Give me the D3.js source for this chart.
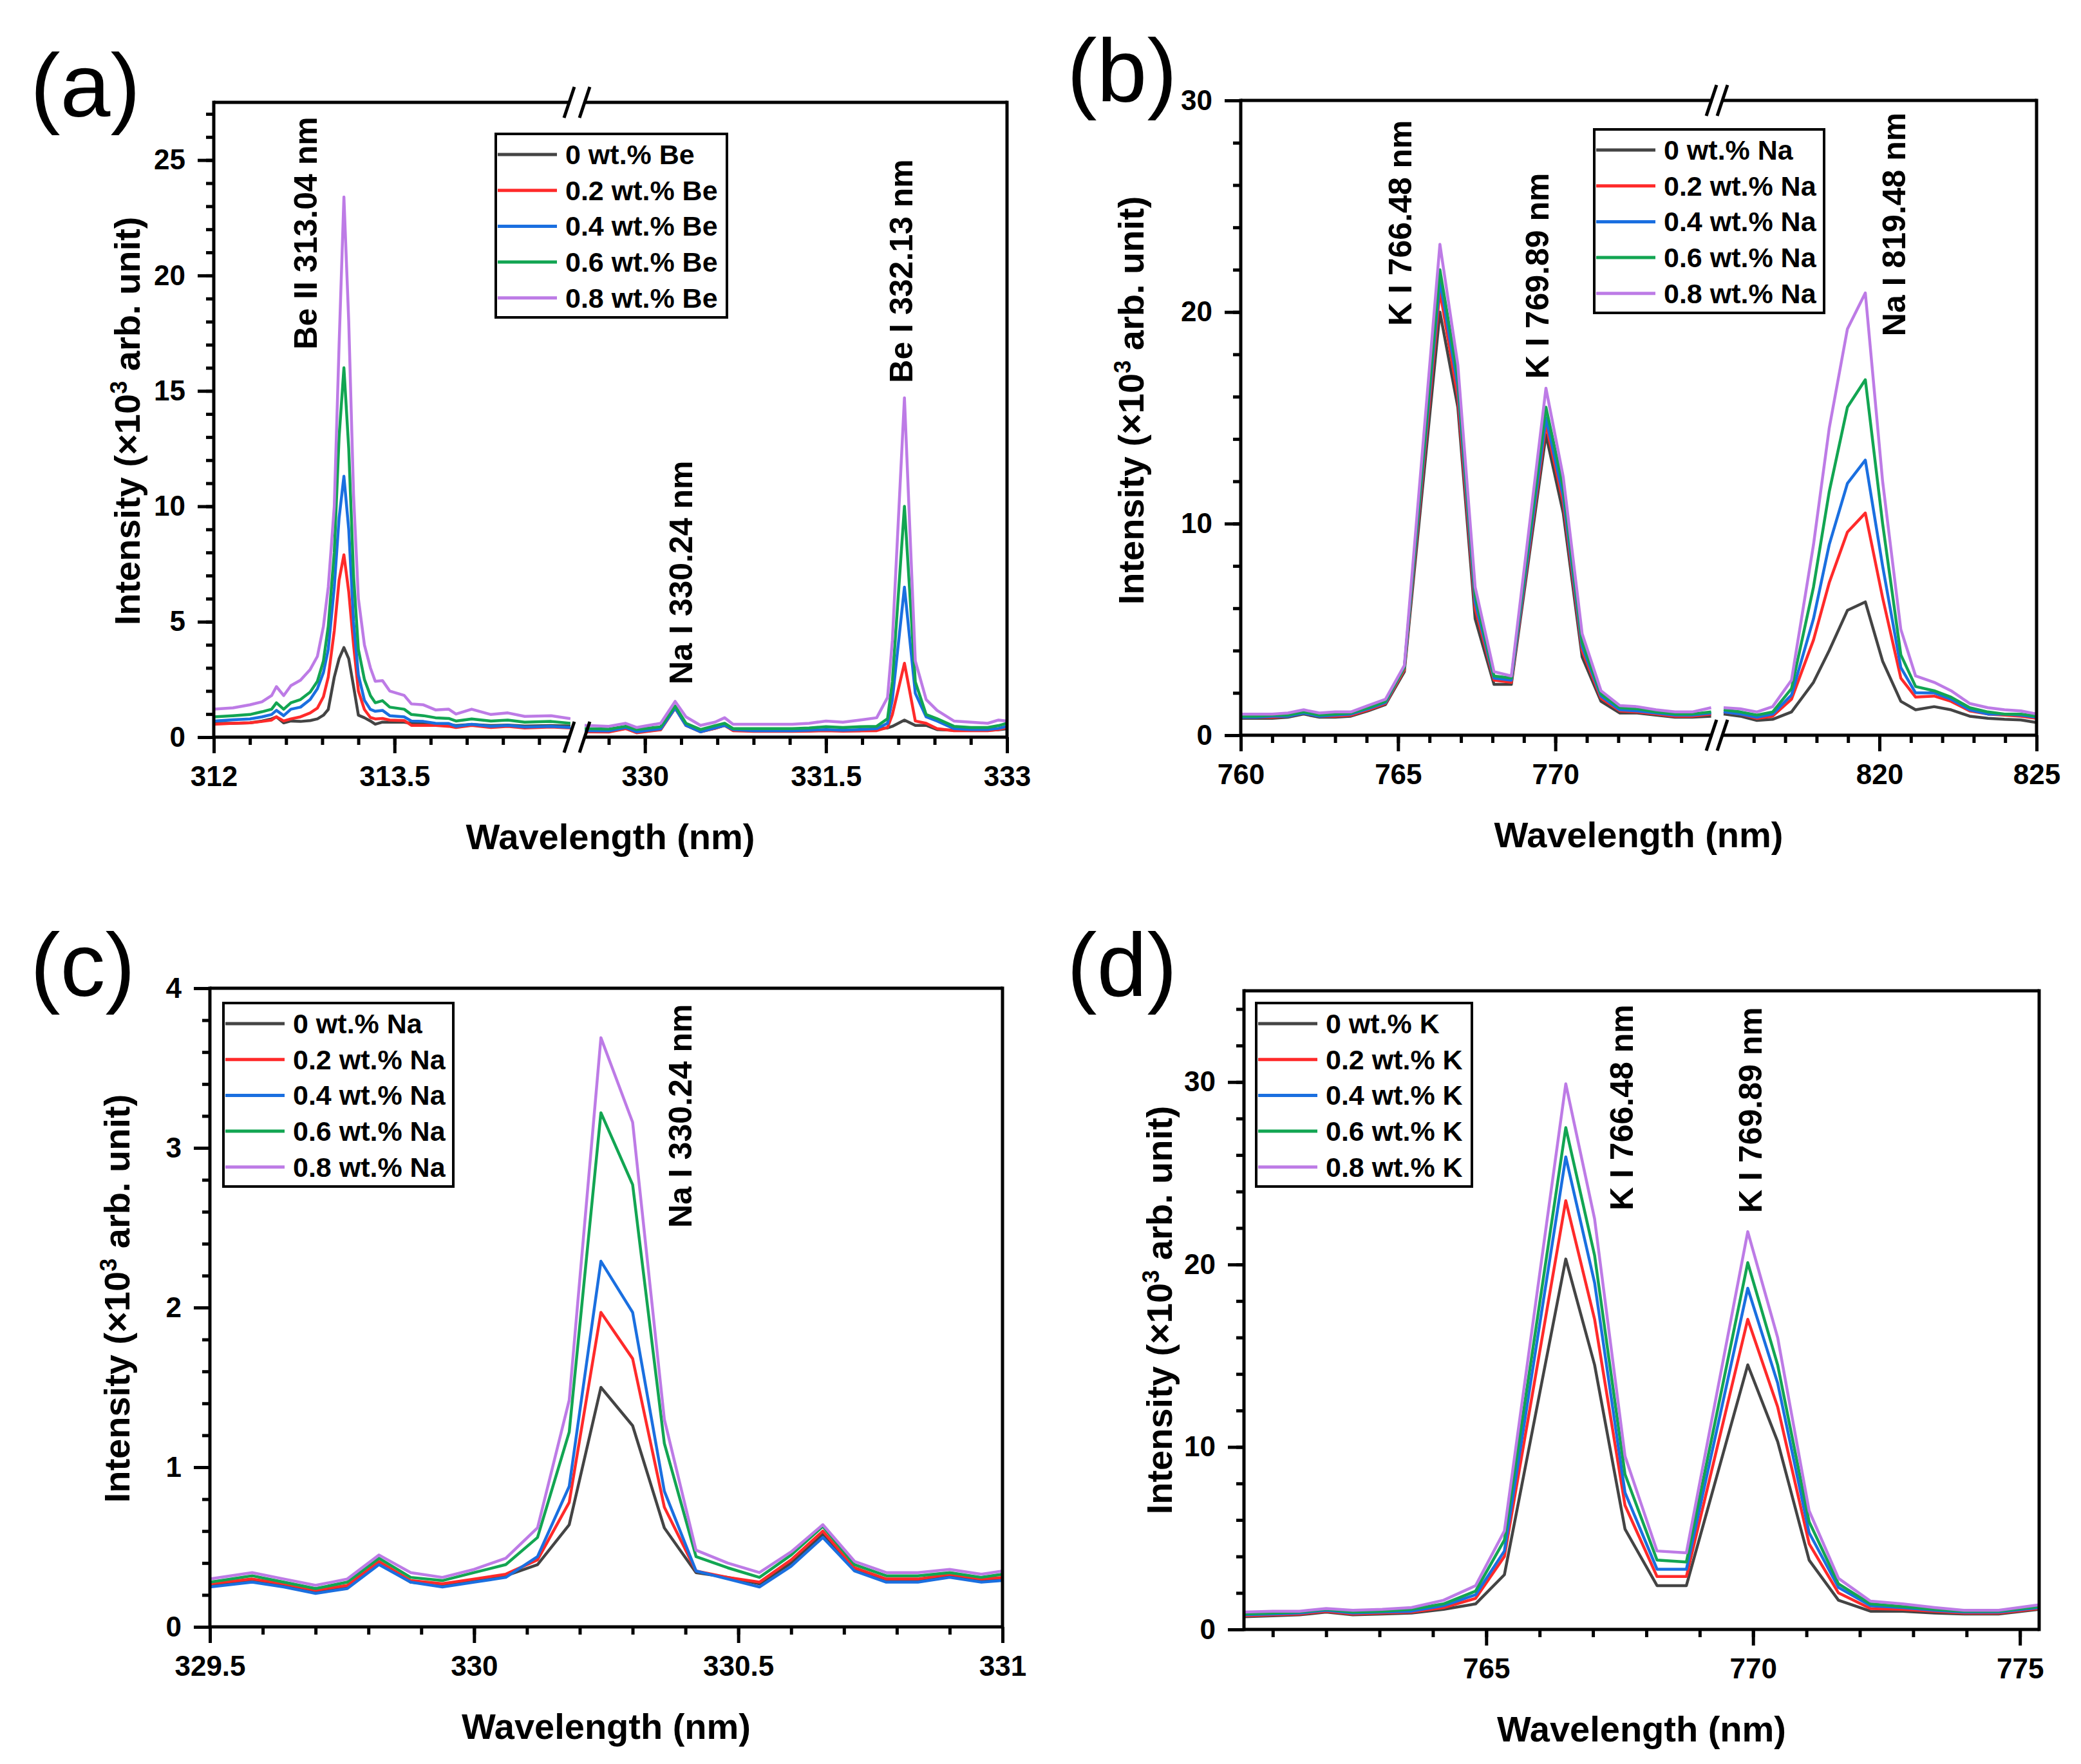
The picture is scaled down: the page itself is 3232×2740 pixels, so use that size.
<!DOCTYPE html>
<html>
<head>
<meta charset="utf-8">
<script src="https://cdn.jsdelivr.net/npm/d3@7"></script>
<style>
  body { margin: 0; background: #fff; }
  text { font-family: "Liberation Sans", Arial, sans-serif; }
</style>
</head>
<body>
<div id="chart"></div>
<script>
// ---- data (intensity in 10^3 arb. unit) ----
var legendBe = ['0 wt.% Be', '0.2 wt.% Be', '0.4 wt.% Be', '0.6 wt.% Be', '0.8 wt.% Be'];
var legendNa = ['0 wt.% Na', '0.2 wt.% Na', '0.4 wt.% Na', '0.6 wt.% Na', '0.8 wt.% Na'];
var legendK = ['0 wt.% K', '0.2 wt.% K', '0.4 wt.% K', '0.6 wt.% K', '0.8 wt.% K'];

// (a) left part of broken axis
var aLx = [312.0, 312.16, 312.30, 312.40, 312.48, 312.52, 312.58, 312.64, 312.72, 312.80, 312.86, 312.91, 312.95, 313.0, 313.04, 313.08, 313.12, 313.16, 313.2, 313.25, 313.3, 313.34, 313.40, 313.46, 313.58, 313.64, 313.74, 313.84, 313.95, 314.01, 314.14, 314.30, 314.44, 314.58, 314.80, 314.96];
var aL0 = [0.6, 0.6, 0.62, 0.7, 0.79, 0.88, 0.62, 0.7, 0.68, 0.72, 0.79, 0.95, 1.2, 2.6, 3.4, 3.88, 3.4, 2.2, 0.95, 0.84, 0.7, 0.56, 0.65, 0.65, 0.65, 0.6, 0.58, 0.56, 0.55, 0.5, 0.55, 0.5, 0.52, 0.48, 0.5, 0.48];
var aL2 = [0.56, 0.6, 0.62, 0.68, 0.74, 0.88, 0.7, 0.79, 0.88, 1.05, 1.26, 1.75, 2.6, 4.6, 6.8, 7.9, 6.3, 4.0, 2.0, 1.2, 0.85, 0.79, 0.81, 0.74, 0.72, 0.51, 0.51, 0.51, 0.47, 0.42, 0.51, 0.42, 0.47, 0.4, 0.44, 0.4];
var aL4 = [0.7, 0.75, 0.79, 0.88, 0.98, 1.16, 0.93, 1.21, 1.3, 1.63, 2.1, 2.8, 3.8, 6.5, 9.5, 11.3, 9.0, 5.0, 2.7, 1.6, 1.2, 1.12, 1.16, 0.93, 0.88, 0.7, 0.68, 0.6, 0.59, 0.47, 0.56, 0.47, 0.51, 0.44, 0.47, 0.42];
var aL6 = [0.88, 0.93, 0.98, 1.1, 1.21, 1.49, 1.21, 1.49, 1.63, 1.95, 2.42, 3.3, 4.8, 8.0, 13.0, 16.0, 12.5, 7.0, 3.8, 2.5, 1.8, 1.49, 1.58, 1.3, 1.21, 0.98, 0.93, 0.84, 0.81, 0.7, 0.79, 0.7, 0.74, 0.65, 0.68, 0.6];
var aL8 = [1.21, 1.27, 1.4, 1.53, 1.8, 2.19, 1.8, 2.23, 2.47, 2.93, 3.5, 4.8, 6.5, 10.0, 17.0, 23.4, 18.0, 10.5, 6.0, 4.0, 3.0, 2.42, 2.45, 2.0, 1.81, 1.44, 1.4, 1.18, 1.21, 1.0, 1.21, 0.98, 1.05, 0.9, 0.93, 0.8];

// (a) right part of broken axis
var aRx = [329.5, 329.7, 329.84, 329.93, 330.13, 330.25, 330.34, 330.46, 330.58, 330.66, 330.73, 330.9, 331.22, 331.36, 331.5, 331.64, 331.78, 331.92, 332.01, 332.05, 332.15, 332.24, 332.33, 332.42, 332.56, 332.7, 332.84, 332.93, 333.0];
var aR0 = [0.25, 0.24, 0.38, 0.21, 0.33, 1.26, 0.51, 0.24, 0.38, 0.51, 0.3, 0.27, 0.27, 0.28, 0.3, 0.28, 0.28, 0.37, 0.4, 0.47, 0.74, 0.51, 0.51, 0.33, 0.3, 0.3, 0.3, 0.32, 0.36];
var aR2 = [0.23, 0.22, 0.37, 0.19, 0.32, 1.26, 0.51, 0.23, 0.38, 0.51, 0.28, 0.25, 0.25, 0.26, 0.28, 0.26, 0.27, 0.28, 0.42, 0.98, 3.2, 0.7, 0.6, 0.37, 0.28, 0.28, 0.28, 0.33, 0.42];
var aR4 = [0.28, 0.27, 0.42, 0.23, 0.36, 1.26, 0.51, 0.23, 0.4, 0.51, 0.33, 0.28, 0.28, 0.3, 0.33, 0.3, 0.33, 0.37, 0.6, 1.63, 6.5, 1.9, 0.88, 0.7, 0.37, 0.33, 0.33, 0.38, 0.47];
var aR6 = [0.37, 0.35, 0.47, 0.33, 0.45, 1.35, 0.6, 0.33, 0.5, 0.6, 0.37, 0.37, 0.37, 0.4, 0.45, 0.42, 0.45, 0.47, 0.8, 2.4, 10.0, 2.4, 0.98, 0.8, 0.47, 0.42, 0.42, 0.5, 0.6];
var aR8 = [0.51, 0.47, 0.6, 0.42, 0.6, 1.55, 0.88, 0.51, 0.65, 0.84, 0.56, 0.56, 0.56, 0.6, 0.7, 0.65, 0.74, 0.84, 1.72, 4.2, 14.7, 3.3, 1.63, 1.16, 0.7, 0.65, 0.6, 0.74, 0.7];

// (b) left part (K lines)
var bLx = [760.0, 760.5, 761.0, 761.5, 762.0, 762.5, 763.0, 763.5, 764.05, 764.6, 765.2, 766.33, 766.9, 767.45, 768.05, 768.6, 769.7, 770.25, 770.85, 771.45, 772.05, 772.6, 773.2, 773.8, 774.35, 774.95];
var bL0 = [0.8, 0.8, 0.8, 0.85, 1.0, 0.85, 0.85, 0.9, 1.15, 1.45, 3.0, 20.0, 15.5, 5.5, 2.4, 2.4, 14.2, 10.5, 3.7, 1.6, 1.05, 1.05, 0.95, 0.85, 0.85, 0.9];
var bL2 = [0.85, 0.85, 0.85, 0.9, 1.05, 0.9, 0.9, 0.95, 1.2, 1.5, 3.1, 21.0, 16.0, 6.0, 2.6, 2.5, 14.7, 11.0, 4.0, 1.75, 1.15, 1.1, 1.0, 0.9, 0.9, 1.0];
var bL4 = [0.85, 0.85, 0.9, 0.9, 1.05, 0.9, 0.95, 1.0, 1.25, 1.55, 3.2, 21.5, 16.5, 6.3, 2.7, 2.6, 15.0, 11.3, 4.2, 1.85, 1.2, 1.15, 1.05, 0.95, 0.95, 1.05];
var bL6 = [0.9, 0.9, 0.95, 0.95, 1.1, 0.95, 1.0, 1.05, 1.3, 1.6, 3.2, 22.0, 16.9, 6.6, 2.8, 2.7, 15.5, 11.7, 4.4, 1.95, 1.3, 1.25, 1.1, 1.0, 1.0, 1.1];
var bL8 = [1.0, 1.0, 1.0, 1.05, 1.2, 1.05, 1.1, 1.1, 1.4, 1.7, 3.3, 23.2, 17.5, 7.0, 3.0, 2.8, 16.4, 12.2, 4.8, 2.1, 1.4, 1.35, 1.2, 1.1, 1.1, 1.3];

// (b) right part (Na line)
var bRx = [815.04, 815.57, 816.1, 816.6, 817.2, 817.9, 818.4, 818.98, 819.55, 820.1, 820.68, 821.15, 821.74, 822.28, 822.87, 823.45, 823.98, 824.5, 825.0];
var bR0 = [1.0, 0.9, 0.7, 0.75, 1.1, 2.5, 4.0, 5.9, 6.3, 3.5, 1.6, 1.2, 1.35, 1.2, 0.9, 0.8, 0.75, 0.72, 0.6];
var bR2 = [1.1, 1.0, 0.8, 0.9, 1.7, 4.5, 7.2, 9.6, 10.5, 6.5, 2.7, 1.8, 1.85, 1.6, 1.15, 1.0, 0.95, 0.9, 0.8];
var bR4 = [1.1, 1.0, 0.85, 1.0, 1.9, 5.5, 9.0, 11.9, 13.0, 8.0, 3.2, 2.0, 2.0, 1.7, 1.2, 1.0, 1.0, 0.95, 0.85];
var bR6 = [1.2, 1.1, 0.95, 1.1, 2.2, 7.0, 11.5, 15.5, 16.8, 10.0, 3.8, 2.3, 2.1, 1.8, 1.3, 1.1, 1.0, 1.0, 0.9];
var bR8 = [1.3, 1.25, 1.1, 1.35, 2.6, 9.0, 14.5, 19.2, 20.9, 12.0, 5.0, 2.8, 2.5, 2.1, 1.5, 1.3, 1.2, 1.15, 1.0];

// (c) Na I 330.24 nm
var cX = [329.5, 329.58, 329.64, 329.70, 329.76, 329.82, 329.88, 329.94, 330.00, 330.06, 330.12, 330.18, 330.24, 330.30, 330.36, 330.42, 330.48, 330.54, 330.60, 330.66, 330.72, 330.78, 330.84, 330.90, 330.96, 331.00];
var c0 = [0.26, 0.29, 0.26, 0.22, 0.25, 0.40, 0.28, 0.26, 0.29, 0.32, 0.39, 0.64, 1.50, 1.26, 0.62, 0.34, 0.31, 0.27, 0.40, 0.58, 0.36, 0.29, 0.29, 0.32, 0.29, 0.30];
var c2 = [0.27, 0.30, 0.27, 0.23, 0.26, 0.41, 0.29, 0.27, 0.30, 0.33, 0.42, 0.78, 1.97, 1.68, 0.75, 0.35, 0.31, 0.28, 0.42, 0.60, 0.37, 0.30, 0.30, 0.33, 0.30, 0.31];
var c4 = [0.25, 0.28, 0.25, 0.21, 0.24, 0.39, 0.28, 0.25, 0.28, 0.31, 0.44, 0.88, 2.29, 1.97, 0.85, 0.35, 0.30, 0.25, 0.38, 0.56, 0.35, 0.28, 0.28, 0.31, 0.28, 0.29];
var c6 = [0.28, 0.32, 0.28, 0.24, 0.28, 0.43, 0.31, 0.29, 0.34, 0.39, 0.56, 1.22, 3.22, 2.77, 1.15, 0.44, 0.37, 0.31, 0.45, 0.63, 0.39, 0.32, 0.32, 0.34, 0.31, 0.33];
var c8 = [0.30, 0.34, 0.30, 0.26, 0.30, 0.45, 0.34, 0.31, 0.36, 0.43, 0.62, 1.42, 3.69, 3.16, 1.30, 0.48, 0.40, 0.34, 0.47, 0.64, 0.41, 0.34, 0.34, 0.36, 0.33, 0.35];

// (d) K doublet
var dX = [760.46, 761.0, 761.5, 762.0, 762.5, 763.05, 763.6, 764.2, 764.8, 765.34, 766.49, 767.03, 767.6, 768.2, 768.75, 769.9, 770.46, 771.05, 771.6, 772.2, 772.8, 773.4, 773.95, 774.6, 775.36];
var d0 = [0.7, 0.75, 0.8, 0.95, 0.8, 0.85, 0.9, 1.1, 1.4, 3.0, 20.3, 14.5, 5.5, 2.4, 2.4, 14.5, 10.3, 3.8, 1.6, 1.0, 1.0, 0.9, 0.85, 0.85, 1.1];
var d2 = [0.75, 0.8, 0.85, 1.0, 0.85, 0.9, 0.95, 1.2, 1.7, 4.0, 23.5, 17.0, 6.8, 2.9, 2.9, 17.0, 12.2, 4.7, 2.0, 1.15, 1.1, 1.0, 0.9, 0.9, 1.15];
var d4 = [0.8, 0.85, 0.9, 1.05, 0.9, 0.95, 1.0, 1.3, 1.9, 4.3, 25.9, 19.0, 7.5, 3.3, 3.3, 18.7, 13.5, 5.3, 2.3, 1.3, 1.2, 1.05, 0.95, 0.95, 1.2];
var d6 = [0.85, 0.9, 0.95, 1.1, 0.95, 1.0, 1.1, 1.4, 2.1, 4.9, 27.5, 20.5, 8.5, 3.8, 3.7, 20.1, 14.5, 5.9, 2.5, 1.4, 1.25, 1.1, 1.0, 1.0, 1.25];
var d8 = [0.95, 1.0, 1.0, 1.15, 1.05, 1.1, 1.2, 1.6, 2.4, 5.4, 29.9, 22.5, 9.5, 4.3, 4.2, 21.8, 16.0, 6.5, 2.8, 1.55, 1.4, 1.2, 1.05, 1.05, 1.35];

// line annotations: text, segment index, wavelength, intensity (start of rotated text)
var notesA = [['Be II 313.04 nm', 0, 312.76, 16.8], ['Na I 330.24 nm', 1, 330.295, 2.29], ['Be I 332.13 nm', 1, 332.12, 15.35]];
var notesB = [['K I 766.48 nm', 0, 765.07, 19.35], ['K I 769.89 nm', 0, 769.43, 16.85], ['Na I 819.48 nm', 1, 820.47, 18.86]];
var notesC = [['Na I 330.24 nm', 0, 330.39, 2.5]];
var notesD = [['K I 766.48 nm', 0, 767.54, 22.97], ['K I 769.89 nm', 0, 769.95, 22.83]];

// ---- drawing ----
var W = 3232, H = 2740;
var lineColors = ['#444444', '#ff2a2a', '#1a6fe0', '#12a552', '#bd7be6'];
var FONT = '"Liberation Sans", Arial, sans-serif';

var steps = function(a, b, s) {
  return d3.range(0, Math.round((b - a) / s) + 1).map(function(i) { return +(a + i * s).toFixed(3); });
};
var fmt = function(d) { return String(+d.toFixed(2)); };

var panels = [
  { id: 'a', label: '(a)', labelX: 47, labelY: 181,
    x0: 332, x1: 1564, y0: 159, y1: 1145,
    yDomain: [0, 27.5], yMajor: [0, 5, 10, 15, 20, 25], yMinor: steps(0, 27, 1),
    yLabelX: 197, yLabelY: 654, legendNames: legendBe, legend: [770, 208, 359, 285], notes: notesA,
    segs: [
      { domain: [312, 314.96], range: [332, 886], major: [312, 313.5], minor: steps(312, 314.7, 0.3), x: aLx, ys: [aL0, aL2, aL4, aL6, aL8] },
      { domain: [329.5, 333], range: [908, 1564], major: [330, 331.5, 333], minor: steps(329.7, 333, 0.3), x: aRx, ys: [aR0, aR2, aR4, aR6, aR8] }
    ] },
  { id: 'b', label: '(b)', labelX: 1657, labelY: 158,
    x0: 1927, x1: 3163, y0: 156, y1: 1142,
    yDomain: [0, 30], yMajor: [0, 10, 20, 30], yMinor: steps(0, 30, 2),
    yLabelX: 1756, yLabelY: 622, legendNames: legendNa, legend: [2476, 201, 357, 285], notes: notesB,
    segs: [
      { domain: [760, 775], range: [1927, 2660], major: [760, 765, 770], minor: steps(760, 774, 1), x: bLx, ys: [bL0, bL2, bL4, bL6, bL8] },
      { domain: [815, 825], range: [2675, 3163], major: [820, 825], minor: steps(816, 825, 1), x: bRx, ys: [bR0, bR2, bR4, bR6, bR8] }
    ] },
  { id: 'c', label: '(c)', labelX: 47, labelY: 1547,
    x0: 326, x1: 1557, y0: 1535, y1: 2527,
    yDomain: [0, 4], yMajor: [0, 1, 2, 3, 4], yMinor: steps(0, 4, 0.2),
    yLabelX: 181, yLabelY: 2017, legendNames: legendNa, legend: [347, 1558, 357, 285], notes: notesC,
    segs: [
      { domain: [329.5, 331], range: [326, 1557], major: [329.5, 330, 330.5, 331], minor: steps(329.5, 331, 0.1), x: cX, ys: [c0, c2, c4, c6, c8] }
    ] },
  { id: 'd', label: '(d)', labelX: 1657, labelY: 1547,
    x0: 1932, x1: 3167, y0: 1539, y1: 2531,
    yDomain: [0, 35], yMajor: [0, 10, 20, 30], yMinor: steps(0, 34, 2),
    yLabelX: 1800, yLabelY: 2035, legendNames: legendK, legend: [1951, 1558, 335, 285], notes: notesD,
    segs: [
      { domain: [760.46, 775.36], range: [1932, 3167], major: [765, 770, 775], minor: steps(761, 775, 1), x: dX, ys: [d0, d2, d4, d6, d8] }
    ] }
];

var svg = d3.select('#chart').append('svg')
  .attr('width', W)
  .attr('height', H)
  .style('background', '#fff');

var defs = svg.append('defs');

function styleAxis(sel) {
  sel.attr('font-family', FONT);
  sel.select('.domain').remove();
  sel.selectAll('.tick line').attr('stroke', '#000').attr('stroke-width', 5);
  sel.selectAll('.tick text').attr('font-size', 44).attr('font-weight', 'bold').attr('fill', '#000');
}

panels.forEach(function(p) {
  var g = svg.append('g').attr('class', 'panel-' + p.id);
  var y = d3.scaleLinear().domain(p.yDomain).range([p.y1, p.y0]);

  // panel letter
  g.append('text')
    .attr('x', p.labelX).attr('y', p.labelY)
    .attr('font-size', 140)
    .text(p.label);

  // y axis (minor then major)
  var yMin = g.append('g').attr('transform', 'translate(' + p.x0 + ',0)')
    .call(d3.axisLeft(y).tickValues(p.yMinor).tickSize(12).tickFormat(''));
  styleAxis(yMin);
  var yMaj = g.append('g').attr('transform', 'translate(' + p.x0 + ',0)')
    .call(d3.axisLeft(y).tickValues(p.yMajor).tickSize(25).tickPadding(19).tickFormat(fmt));
  styleAxis(yMaj);

  p.segs.forEach(function(s, si) {
    var x = d3.scaleLinear().domain(s.domain).range(s.range);
    s.scale = x;
    var clipId = 'clip-' + p.id + si;
    defs.append('clipPath').attr('id', clipId)
      .append('rect')
      .attr('x', s.range[0]).attr('y', p.y0)
      .attr('width', s.range[1] - s.range[0]).attr('height', p.y1 - p.y0);

    var line = d3.line()
      .x(function(d) { return x(d[0]); })
      .y(function(d) { return y(d[1]); });

    s.ys.forEach(function(vals, k) {
      g.append('path')
        .datum(s.x.map(function(v, i) { return [v, vals[i]]; }))
        .attr('d', line)
        .attr('fill', 'none')
        .attr('stroke', lineColors[k])
        .attr('stroke-width', 4.5)
        .attr('stroke-linejoin', 'round')
        .attr('clip-path', 'url(#' + clipId + ')');
    });

    // x axis ticks for this segment
    var inDom = function(v) { return v >= s.domain[0] - 1e-6 && v <= s.domain[1] + 1e-6; };
    var xMin = g.append('g').attr('transform', 'translate(0,' + p.y1 + ')')
      .call(d3.axisBottom(x).tickValues(s.minor.filter(inDom)).tickSize(12).tickFormat(''));
    styleAxis(xMin);
    var xMaj = g.append('g').attr('transform', 'translate(0,' + p.y1 + ')')
      .call(d3.axisBottom(x).tickValues(s.major.filter(inDom)).tickSize(25).tickPadding(20).tickFormat(fmt));
    styleAxis(xMaj);

    // top and bottom frame pieces
    [p.y0, p.y1].forEach(function(yy) {
      g.append('line')
        .attr('x1', s.range[0]).attr('x2', s.range[1])
        .attr('y1', yy).attr('y2', yy)
        .attr('stroke', '#000').attr('stroke-width', 5);
    });
  });

  // left / right frame
  [p.x0, p.x1].forEach(function(xx) {
    g.append('line')
      .attr('x1', xx).attr('x2', xx)
      .attr('y1', p.y0 - 2.5).attr('y2', p.y1 + 2.5)
      .attr('stroke', '#000').attr('stroke-width', 5);
  });

  // break marks
  for (var i = 1; i < p.segs.length; i++) {
    var xl = p.segs[i - 1].range[1], xr = p.segs[i].range[0];
    [p.y0, p.y1].forEach(function(yy) {
      [xl - 2, xr].forEach(function(cx) {
        g.append('line')
          .attr('x1', cx - 8).attr('y1', yy + 24)
          .attr('x2', cx + 8).attr('y2', yy - 24)
          .attr('stroke', '#000').attr('stroke-width', 5);
      });
    });
  }

  // axis titles
  g.append('text')
    .attr('x', (p.x0 + p.x1) / 2).attr('y', p.y1 + 174)
    .attr('text-anchor', 'middle')
    .attr('font-size', 56).attr('font-weight', 'bold')
    .text('Wavelength (nm)');

  var yl = g.append('text')
    .attr('transform', 'translate(' + p.yLabelX + ',' + p.yLabelY + ') rotate(-90)')
    .attr('text-anchor', 'middle')
    .attr('font-size', 56).attr('font-weight', 'bold');
  yl.append('tspan').attr('dy', 20).text('Intensity (\u00d710');
  yl.append('tspan').attr('font-size', 36).attr('dy', -20).text('3');
  yl.append('tspan').attr('dy', 20).text(' arb. unit)');

  // line labels
  p.notes.forEach(function(n) {
    var sx = p.segs[n[1]].scale;
    g.append('text')
      .attr('transform', 'translate(' + sx(n[2]) + ',' + y(n[3]) + ') rotate(-90)')
      .attr('dy', '0.35em')
      .attr('font-size', 50).attr('font-weight', 'bold')
      .text(n[0]);
  });

  // legend
  var lg = g.append('g').attr('transform', 'translate(' + p.legend[0] + ',' + p.legend[1] + ')');
  lg.append('rect')
    .attr('width', p.legend[2]).attr('height', p.legend[3])
    .attr('fill', '#fff').attr('stroke', '#000').attr('stroke-width', 4);
  p.legendNames.forEach(function(name, k) {
    var ry = 32 + k * 55.7;
    lg.append('line')
      .attr('x1', 3).attr('x2', 95).attr('y1', ry).attr('y2', ry)
      .attr('stroke', lineColors[k]).attr('stroke-width', 5);
    lg.append('text')
      .attr('x', 108).attr('y', ry).attr('dy', '0.35em')
      .attr('font-size', 43).attr('font-weight', 'bold')
      .text(name);
  });
});
</script>
</body>
</html>
